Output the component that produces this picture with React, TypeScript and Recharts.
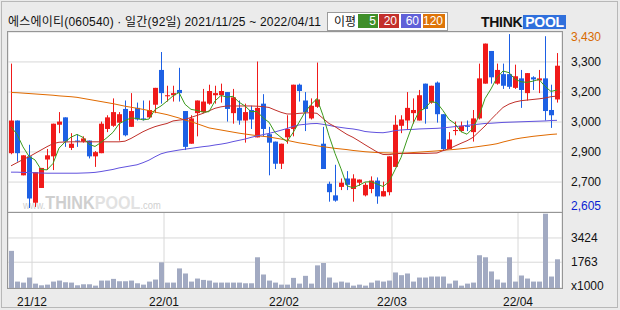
import React from 'react';
import { ComposedChart, Bar, Line, XAxis, YAxis, CartesianGrid } from 'recharts';

// ---------- data ----------
const dates = [
  '2021/11/25', '2021/11/26', '2021/11/29', '2021/11/30',
  '2021/12/01', '2021/12/02', '2021/12/03', '2021/12/06', '2021/12/07', '2021/12/08', '2021/12/09', '2021/12/10',
  '2021/12/13', '2021/12/14', '2021/12/15', '2021/12/16', '2021/12/17', '2021/12/20', '2021/12/21', '2021/12/22',
  '2021/12/23', '2021/12/24', '2021/12/27', '2021/12/28', '2021/12/29', '2021/12/30',
  '2022/01/03', '2022/01/04', '2022/01/05', '2022/01/06', '2022/01/07', '2022/01/10', '2022/01/11', '2022/01/12',
  '2022/01/13', '2022/01/14', '2022/01/17', '2022/01/18', '2022/01/19', '2022/01/20', '2022/01/21', '2022/01/24',
  '2022/01/25', '2022/01/26', '2022/01/27', '2022/01/28',
  '2022/02/03', '2022/02/04', '2022/02/07', '2022/02/08', '2022/02/09', '2022/02/10', '2022/02/11', '2022/02/14',
  '2022/02/15', '2022/02/16', '2022/02/17', '2022/02/18', '2022/02/21', '2022/02/22', '2022/02/23', '2022/02/24',
  '2022/02/25', '2022/02/28',
  '2022/03/02', '2022/03/03', '2022/03/04', '2022/03/07', '2022/03/08', '2022/03/10', '2022/03/11', '2022/03/14',
  '2022/03/15', '2022/03/16', '2022/03/17', '2022/03/18', '2022/03/21', '2022/03/22', '2022/03/23', '2022/03/24',
  '2022/03/25', '2022/03/28', '2022/03/29', '2022/03/30', '2022/03/31',
  '2022/04/01', '2022/04/04', '2022/04/05', '2022/04/06', '2022/04/07', '2022/04/08', '2022/04/11',
];

const opens = [
  2865, 3020, 2760, 2850, 2630, 2700, 2835, 2850, 3000, 3035,
  2890, 2925, 2920, 2925, 2850, 2865, 2980, 2995, 3010, 3075,
  2990, 3080, 3030, 3035, 3095, 3260, 3135, 3140, 3165, 3065,
  2910, 3055, 3060, 3100, 3140, 3140, 3155, 3055, 3080, 3020,
  3070, 2940, 3100, 2955, 2920, 2815, 2940, 2980, 3190, 3115,
  3030, 3085, 2910, 2720, 2665, 2705, 2745, 2695, 2725, 2665,
  2695, 2735, 2660, 2680, 2800, 2995, 3020, 3055, 3020, 3195,
  3105, 3200, 3050, 2885, 2970, 2970, 2995, 2965, 3030, 3195,
  3350, 3195, 3240, 3240, 3175, 3220, 3150, 3225, 3210, 3220,
  3070, 3120,
];
const highs = [
  3290, 3020, 2855, 2905, 2775, 2795, 2885, 3005, 3060, 3035,
  2960, 2955, 2945, 2925, 2875, 3015, 3045, 3125, 3060, 3115,
  3150, 3105, 3115, 3115, 3175, 3345, 3185, 3185, 3270, 3065,
  3045, 3115, 3170, 3190, 3185, 3195, 3155, 3170, 3115, 3100,
  3090, 3300, 3145, 2990, 2920, 2910, 3045, 3190, 3195, 3155,
  3125, 3295, 2990, 2730, 2810, 2745, 2780, 2765, 2740, 2725,
  2755, 2750, 2730, 2850, 3045, 3045, 3155, 3125, 3165, 3195,
  3185, 3205, 3050, 2965, 3015, 3015, 3020, 3070, 3290, 3385,
  3350, 3290, 3290, 3430, 3285, 3260, 3245, 3230, 3260, 3420,
  3190, 3340,
];
const lows = [
  2860, 2825, 2760, 2605, 2610, 2700, 2785, 2785, 2960, 2895,
  2880, 2895, 2915, 2840, 2800, 2865, 2965, 2990, 2925, 2945,
  2990, 3020, 3020, 3030, 3055, 3100, 3110, 3110, 3110, 2880,
  2910, 2945, 3055, 3095, 3100, 3105, 3015, 3005, 3000, 2915,
  2980, 2940, 2945, 2760, 2790, 2790, 2910, 2945, 3110, 2970,
  3025, 3080, 2790, 2635, 2635, 2690, 2690, 2635, 2710, 2660,
  2675, 2625, 2660, 2665, 2800, 2960, 2975, 3005, 3020, 3005,
  3100, 3010, 2875, 2885, 2950, 2965, 2970, 2920, 3025, 3195,
  3195, 3190, 3170, 3170, 3170, 3080, 3115, 3165, 3150, 3020,
  2985, 3105,
];
const closes = [
  3020, 2865, 2855, 2650, 2775, 2795, 2855, 3005, 3015, 2920,
  2910, 2920, 2935, 2850, 2870, 3005, 3035, 3060, 3050, 2950,
  3065, 3025, 3025, 3070, 3175, 3150, 3140, 3150, 3150, 2895,
  3030, 3115, 3110, 3160, 3150, 3160, 3075, 3130, 3020, 3060,
  3025, 3080, 2980, 2915, 2815, 2910, 2980, 3190, 3160, 3060,
  3090, 3120, 2790, 2680, 2640, 2725, 2715, 2745, 2740, 2715,
  2735, 2660, 2685, 2850, 3000, 3025, 3080, 3070, 3140, 3075,
  3185, 3050, 2885, 2930, 2975, 2995, 2990, 3030, 3220, 3385,
  3225, 3260, 3185, 3180, 3230, 3165, 3245, 3215, 3220, 3065,
  3045, 3280,
];
// volume, thousands of shares
const volumes = [
  2541, 439, 370, 716, 300, 185, 231, 439, 508, 393,
  370, 185, 254, 254, 162, 508, 508, 624, 462, 462,
  508, 323, 231, 439, 578, 1756, 370, 370, 1340, 993,
  439, 647, 554, 508, 370, 370, 370, 370, 370, 323,
  323, 2102, 924, 508, 370, 231, 231, 693, 300, 832,
  300, 1548, 1709, 716, 370, 439, 370, 162, 231, 162,
  370, 508, 439, 508, 1063, 878, 993, 439, 716, 716,
  785, 785, 785, 300, 508, 162, 300, 370, 2241, 2102,
  1132, 578, 370, 2102, 439, 855, 647, 439, 439, 5082,
  785, 1964,
];
const ma5 = [
  2990, 2955, 2895, 2850, 2833, 2788, 2786, 2816, 2889, 2918,
  2941, 2954, 2940, 2907, 2897, 2916, 2939, 2964, 3004, 3020,
  3032, 3030, 3023, 3027, 3072, 3089, 3112, 3137, 3153, 3097,
  3073, 3068, 3060, 3062, 3113, 3139, 3131, 3135, 3107, 3089,
  3062, 3063, 3033, 3012, 2963, 2940, 2920, 2962, 3011, 3060,
  3096, 3124, 3044, 2948, 2864, 2791, 2710, 2701, 2713, 2728,
  2730, 2719, 2707, 2729, 2786, 2844, 2928, 3005, 3063, 3078,
  3110, 3104, 3067, 3025, 3005, 2967, 2955, 2984, 3042, 3124,
  3170, 3224, 3255, 3247, 3216, 3204, 3201, 3207, 3215, 3182,
  3158, 3165,
];
const ma20 = [
  2805, 2820, 2835, 2848, 2864, 2880, 2896, 2910, 2917, 2918,
  2919, 2919, 2919, 2919, 2919, 2919, 2919, 2919, 2919, 2922,
  2935, 2951, 2967, 2980, 2991, 2999, 3006, 3018, 3022, 3025,
  3035, 3044, 3054, 3066, 3078, 3085, 3089, 3089, 3089, 3089,
  3089, 3088, 3086, 3082, 3070, 3059, 3051, 3051, 3054, 3056,
  3057, 3054, 3030, 3006, 2991, 2972, 2954, 2940, 2923, 2905,
  2888, 2871, 2859, 2858, 2862, 2864, 2864, 2864, 2864, 2864,
  2865, 2866, 2877, 2886, 2899, 2912, 2924, 2940, 2967, 2994,
  3025, 3054, 3082, 3098, 3108, 3114, 3117, 3120, 3123, 3127,
  3133, 3136,
];
const ma60 = [
  2775, 2775, 2774, 2773, 2772, 2771, 2770, 2770, 2770, 2770,
  2770, 2770, 2771, 2772, 2774, 2778, 2783, 2788, 2795, 2800,
  2805, 2810, 2820, 2832, 2848, 2862, 2870, 2875, 2880, 2884,
  2888, 2892, 2896, 2899, 2904, 2908, 2913, 2920, 2926, 2932,
  2940, 2947, 2953, 2959, 2966, 2974, 2982, 2992, 2999, 3002,
  3005, 3006, 3002, 2997, 2991, 2987, 2983, 2980, 2975, 2968,
  2965, 2963, 2962, 2966, 2972, 2975, 2977, 2978, 2980, 2981,
  2982, 2983, 2985, 2988, 2991, 2994, 2997, 3000, 3003, 3006,
  3007, 3009, 3011, 3012, 3013, 3014, 3015, 3016, 3017, 3018,
  3020, 3021,
];
const ma120 = [
  3153, 3152, 3150, 3148, 3146, 3144, 3142, 3140, 3137, 3135,
  3133, 3130, 3125, 3120, 3115, 3110, 3105, 3100, 3094, 3088,
  3083, 3078, 3073, 3067, 3060, 3054, 3048, 3040, 3032, 3022,
  3015, 3005, 2995, 2985, 2980, 2975, 2970, 2965, 2960, 2956,
  2952, 2948, 2945, 2942, 2937, 2932, 2926, 2920, 2914, 2910,
  2905, 2900, 2896, 2892, 2888, 2885, 2882, 2878, 2875, 2872,
  2870, 2868, 2867, 2866, 2865, 2865, 2866, 2868, 2870, 2872,
  2874, 2876, 2879, 2881, 2883, 2886, 2889, 2893, 2897, 2901,
  2905, 2910, 2918, 2925, 2932, 2937, 2941, 2945, 2948, 2951,
  2954, 2956,
];

const priceTicks = [2586, 2728, 2871, 3013, 3155, 3298, 3440];
const priceTickLabels = ['2,605', '2,700', '2,900', '3,000', '3,200', '3,300', '3,430'];
const volTicks = [0, 1763, 3424];
const volTickLabels = ['x1000', '1763', '3424'];
const monthLabels = ['21/12', '22/01', '22/02', '22/03', '22/04'];
const maLegend = ['5', '20', '60', '120'];

// ---------- styles ----------
const RED = '#f01a1a';
const BLUE = '#1d60e4';
const MA_COLORS = ['#3c9a1c', '#c0302a', '#6152de', '#e06a00'];
const LEGEND_BG = ['#3f8f2a', '#c3302c', '#6060d8', '#de7408'];
const GRID = '#d8d8d8';
const AXIS_FONT = "'Liberation Sans', Arial, sans-serif";

const data = dates.map((d, i) => ({
  i,
  date: d,
  o: opens[i],
  h: highs[i],
  l: lows[i],
  c: closes[i],
  range: [lows[i], highs[i]],
  vol: volumes[i],
  ma5: ma5[i],
  ma20: ma20[i],
  ma60: ma60[i],
  ma120: ma120[i],
}));

const monthTicks: number[] = [];
for (let k = 1; k < dates.length; k++) {
  if (dates[k].slice(0, 7) !== dates[k - 1].slice(0, 7)) monthTicks.push(k - 0.5);
}
const X_DOMAIN: [number, number] = [-0.5, dates.length - 0.1667];

const Candle = (props: any) => {
  const { x, y, width, height, payload } = props;
  if (!payload || x == null || y == null) return null;
  const { o, h, l, c } = payload;
  const top = Math.min(y, y + height);
  const span = Math.abs(height);
  const ratio = h !== l ? span / (h - l) : 0;
  const center = x + width / 2;
  const px = Math.floor(center);
  const color = c >= o ? RED : BLUE;
  const bTop = top + (h - Math.max(o, c)) * ratio;
  const bBot = top + (h - Math.min(o, c)) * ratio;
  return (
    <g>
      <line x1={px + 0.5} x2={px + 0.5} y1={top} y2={top + span} stroke={color} strokeWidth={1} />
      <rect x={px - 2} y={bTop} width={5} height={Math.max(1, bBot - bTop)} fill={color} />
    </g>
  );
};

const VolBar = (props: any) => {
  const { x, y, width, height } = props;
  if (x == null || y == null) return null;
  const px = Math.floor(x + width / 2);
  return <rect x={px - 2} y={y} width={5} height={Math.max(0, height)} fill="#a2aac2" />;
};

const PriceTick = (props: any) => {
  const { x, y, payload } = props;
  const idx = priceTicks.indexOf(payload.value);
  const last = priceTicks.length - 1;
  const color = idx === last ? '#d86a00' : idx === 0 ? '#0a1ed2' : '#111';
  const off = idx === last ? 5 : idx === 0 ? -6 : 0;
  return (
    <text x={x + 1} y={y + off} dy="0.35em" fill={color} fontSize={12} fontFamily={AXIS_FONT}>
      {priceTickLabels[idx]}
    </text>
  );
};

const VolTick = (props: any) => {
  const { x, y, payload } = props;
  const idx = volTicks.indexOf(payload.value);
  const off = idx === 0 ? -2 : 0;
  return (
    <text x={x + 1} y={y + off} dy="0.35em" fill="#111" fontSize={12} fontFamily={AXIS_FONT}>
      {volTickLabels[idx]}
    </text>
  );
};

const MonthTick = (props: any) => {
  const { x, y, payload } = props;
  const idx = monthTicks.indexOf(payload.value);
  return (
    <text x={x} y={y + 6} dy="0.35em" textAnchor="middle" fill="#111" fontSize={12} fontFamily={AXIS_FONT}>
      {monthLabels[idx]}
    </text>
  );
};

export default function App() {
  return (
    <div style={{ position: 'absolute', left: 0, top: 0, width: 620, height: 310, background: '#ebebeb', overflow: 'hidden' }}>
      {/* outer frame */}
      <div style={{ position: 'absolute', left: 1, top: 1, width: 617, height: 307, border: '1px solid #b8b8b8', boxSizing: 'border-box' }} />
      {/* title */}
      <div style={{ position: 'absolute', left: 8, top: 14, fontSize: 12, lineHeight: '16px', color: '#111', whiteSpace: 'nowrap', letterSpacing: 0.2, fontFamily: "'Liberation Sans', Arial, 'Noto Sans CJK KR', sans-serif" }}>
        에스에이티(060540) · 일간(92일) 2021/11/25 ~ 2022/04/11
      </div>
      {/* MA legend */}
      <div style={{ position: 'absolute', left: 327, top: 12, width: 121, height: 19, background: '#fff', border: '1px solid #9c9c9c', boxSizing: 'border-box' }} />
      <div style={{ position: 'absolute', left: 334, top: 13, fontSize: 12, lineHeight: '16px', color: '#111', fontFamily: "'Noto Sans CJK KR', sans-serif" }}>이평</div>
      {maLegend.map((t, k) => (
        <div key={t} style={{ position: 'absolute', left: [358, 379, 401, 423][k], top: 14, width: k === 3 ? 22 : 20, height: 14, background: LEGEND_BG[k], color: '#fff', fontSize: 12, lineHeight: '14px', textAlign: 'right', paddingRight: 2, boxSizing: 'border-box', fontFamily: AXIS_FONT }}>{t}</div>
      ))}
      {/* ThinkPool logo */}
      <div style={{ position: 'absolute', left: 481, top: 13, height: 18, display: 'flex', alignItems: 'center', fontFamily: AXIS_FONT, fontWeight: 900, fontSize: 14, letterSpacing: -0.3 }}>
        <span style={{ color: '#111' }}>THINK</span>
        <span style={{ color: '#fff', background: '#3070dc', padding: '0 2px', marginLeft: 1, lineHeight: '14px' }}>POOL</span>
      </div>
      {/* plot backgrounds */}
      <div style={{ position: 'absolute', left: 8, top: 32, width: 554, height: 256, background: '#fff' }} />
      {/* watermark */}
      <div style={{ position: 'absolute', left: 23, top: 194, whiteSpace: 'nowrap', fontFamily: AXIS_FONT, color: '#cfcfcf', lineHeight: '18px', transform: 'scaleX(0.85)', transformOrigin: 'left top' }}>
        <span style={{ fontSize: 11 }}>www.</span>
        <span style={{ fontSize: 19, fontWeight: 900 }}>THINK</span>
        <span style={{ fontSize: 19, fontWeight: 900, color: '#e2e2e2' }}>POOL</span>
        <span style={{ fontSize: 11 }}>.com</span>
      </div>
      {/* price chart */}
      <div style={{ position: 'absolute', left: 0, top: 0 }}>
        <ComposedChart width={620} height={212} data={data} margin={{ top: 32, right: 0, bottom: 0, left: 8 }}>
          <CartesianGrid stroke={GRID} />
          <XAxis dataKey="i" type="number" domain={X_DOMAIN} allowDataOverflow ticks={monthTicks} interval={0} height={0} tick={false} axisLine={false} tickLine={false} />
          <YAxis orientation="right" width={58} domain={[priceTicks[0], priceTicks[priceTicks.length - 1]]} allowDataOverflow ticks={priceTicks} interval={0} axisLine={false} tickLine={false} tick={<PriceTick />} />
          <Bar dataKey="range" barSize={5} shape={<Candle />} isAnimationActive={false} />
          <Line dataKey="ma120" stroke={MA_COLORS[3]} strokeWidth={1} dot={false} isAnimationActive={false} />
          <Line dataKey="ma60" stroke={MA_COLORS[2]} strokeWidth={1} dot={false} isAnimationActive={false} />
          <Line dataKey="ma20" stroke={MA_COLORS[1]} strokeWidth={1} dot={false} isAnimationActive={false} />
          <Line dataKey="ma5" stroke={MA_COLORS[0]} strokeWidth={1} dot={false} isAnimationActive={false} />
        </ComposedChart>
      </div>
      {/* volume chart */}
      <div style={{ position: 'absolute', left: 0, top: 212 }}>
        <ComposedChart width={620} height={98} data={data} margin={{ top: 0, right: 0, bottom: 0, left: 8 }}>
          <CartesianGrid stroke={GRID} />
          <XAxis dataKey="i" type="number" domain={X_DOMAIN} allowDataOverflow ticks={monthTicks} interval={0} height={22} axisLine={false} tickLine={false} tick={<MonthTick />} />
          <YAxis orientation="right" width={58} domain={[0, 5200]} ticks={volTicks} interval={0} axisLine={false} tickLine={false} tick={<VolTick />} />
          <Bar dataKey="vol" barSize={5} shape={<VolBar />} isAnimationActive={false} />
        </ComposedChart>
      </div>
      {/* panel borders */}
      <div style={{ position: 'absolute', left: 7, top: 31, width: 556, height: 258, border: '1px solid #969696', boxSizing: 'border-box', pointerEvents: 'none' }} />
      <div style={{ position: 'absolute', left: 7, top: 212, width: 556, height: 1, background: '#969696' }} />
    </div>
  );
}
